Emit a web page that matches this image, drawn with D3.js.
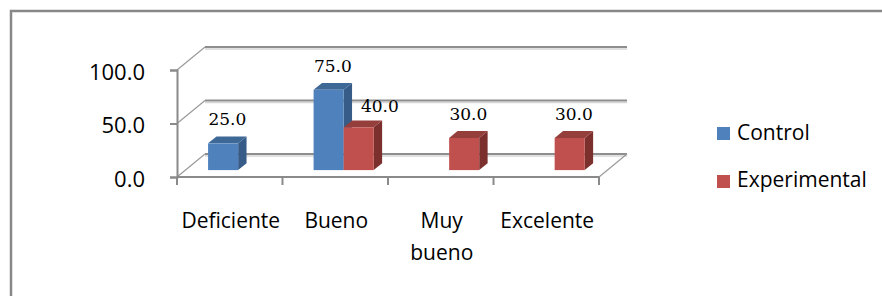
<!DOCTYPE html>
<html>
<head>
<meta charset="utf-8">
<script src="https://cdn.jsdelivr.net/npm/d3@7"></script>
<style>
  body { margin: 0; background: #fff; }
  text { font-family: "Open Sans", sans-serif; fill: #000; }
</style>
</head>
<body>
<div id="chart"></div>
<script>
var categories = ['Deficiente', 'Bueno', 'Muy bueno', 'Excelente'];
var seriesNames = ['Control', 'Experimental'];
var controlValues = [25, 75, 0, 0];
var experimentalValues = [0, 40, 30, 30];
var yTicks = [0, 50, 100];

var width = 882, height = 296;
var plot = {left: 177, right: 599, top: 70, bottom: 177};
var depth = {dx: 28, dy: -23};          // 3d wall depth
var barFront = 0.3, barBack = 0.6;      // bar position in depth

var colors = {
  Control: {front: '#4f81bd', top: '#3e6896', side: '#375c88'},
  Experimental: {front: '#c0504d', top: '#953f3c', side: '#7b302e'}
};

var svg = d3.select('#chart').append('svg')
  .attr('width', width)
  .attr('height', height);

svg.append('rect')
  .attr('x', 11).attr('y', 11)
  .attr('width', width + 20).attr('height', height + 20)
  .attr('fill', '#fff')
  .attr('stroke', '#888')
  .attr('stroke-width', 2.5);

var x = d3.scaleBand().domain(categories).range([plot.left, plot.right]);
var bw = x.bandwidth();
var xSub = d3.scaleBand().domain(seriesNames).range([bw * 0.215, bw * 0.785]);
var y = d3.scaleLinear().domain([0, 100]).range([plot.bottom, plot.top]);

// walls and gridlines
var walls = svg.append('g');
yTicks.forEach(function(v) {
  var yb = y(v) + depth.dy;
  walls.append('line')
    .attr('x1', plot.left + depth.dx).attr('x2', plot.right + depth.dx)
    .attr('y1', yb + 2).attr('y2', yb + 2)
    .attr('stroke', '#d6d6d6').attr('stroke-width', 1.5);
  walls.append('line')
    .attr('x1', plot.left + depth.dx).attr('x2', plot.right + depth.dx)
    .attr('y1', yb).attr('y2', yb)
    .attr('stroke', '#8e8e8e').attr('stroke-width', 2);
  walls.append('line')
    .attr('x1', plot.left).attr('x2', plot.left + depth.dx)
    .attr('y1', y(v)).attr('y2', yb)
    .attr('stroke', '#9a9a9a').attr('stroke-width', 1.2);
});
// floor right edge
walls.append('line')
  .attr('x1', plot.right).attr('y1', plot.bottom)
  .attr('x2', plot.right + depth.dx).attr('y2', plot.bottom + depth.dy)
  .attr('stroke', '#9a9a9a').attr('stroke-width', 1.2);

// bars
var bars = [];
categories.forEach(function(c, i) {
  bars.push({cat: c, series: 'Control', value: controlValues[i], other: experimentalValues[i]});
  bars.push({cat: c, series: 'Experimental', value: experimentalValues[i], other: controlValues[i]});
});
bars = bars.filter(function(d) { return d.value > 0; });

var barG = svg.append('g');
bars.forEach(function(d) {
  var x0 = x(d.cat) + xSub(d.series) + barFront * depth.dx;
  var x1 = x0 + xSub.bandwidth();
  var yb = y(0) + barFront * depth.dy;
  var yt = y(d.value) + barFront * depth.dy;
  var ox = (barBack - barFront) * depth.dx;
  var oy = (barBack - barFront) * depth.dy;
  var c = colors[d.series];
  barG.append('path')
    .attr('d', 'M' + x1 + ',' + yb + 'L' + x1 + ',' + yt + 'L' + (x1 + ox) + ',' + (yt + oy) +
      'L' + (x1 + ox) + ',' + (yb + oy) + 'Z')
    .attr('fill', c.side);
  barG.append('path')
    .attr('d', 'M' + x0 + ',' + yt + 'L' + x1 + ',' + yt + 'L' + (x1 + ox) + ',' + (yt + oy) +
      'L' + (x0 + ox) + ',' + (yt + oy) + 'Z')
    .attr('fill', c.top);
  barG.append('rect')
    .attr('x', x0).attr('y', yt)
    .attr('width', xSub.bandwidth()).attr('height', yb - yt)
    .attr('fill', c.front);

  // data label, pushed aside when the neighbour bar is taller
  var nudge = (d.series === 'Experimental' && d.other > d.value) ? 1 : 0;
  svg.append('text')
    .attr('x', (x0 + x1) / 2 + ox / 2 + nudge * 17)
    .attr('y', yt + oy - 11 + nudge * 3)
    .attr('text-anchor', 'middle')
    .style('font-family', '"DejaVu Serif", serif')
    .style('font-size', '17px')
    .text(d3.format('.1f')(d.value));
});

// value axis
var yAxis = svg.append('g')
  .attr('transform', 'translate(' + plot.left + ',0)')
  .call(d3.axisLeft(y).tickValues(yTicks).tickFormat(d3.format('.1f')).tickSize(7).tickPadding(25));
yAxis.select('.domain').attr('stroke', '#8a8a8a').attr('stroke-width', 2);
yAxis.selectAll('.tick line').attr('stroke', '#8a8a8a').attr('stroke-width', 2);
yAxis.selectAll('.tick text')
  .attr('dy', '0.42em')
  .style('font-family', '"Open Sans", sans-serif')
  .style('font-size', '22px')
  .attr('fill', '#000');

// category axis
var xAxis = svg.append('g');
xAxis.append('line')
  .attr('x1', plot.left).attr('x2', plot.right)
  .attr('y1', plot.bottom).attr('y2', plot.bottom)
  .attr('stroke', '#8a8a8a').attr('stroke-width', 2);
categories.concat([null]).forEach(function(c) {
  var tx = c ? x(c) : plot.right;
  xAxis.append('line')
    .attr('x1', tx).attr('x2', tx)
    .attr('y1', plot.bottom).attr('y2', plot.bottom + 8)
    .attr('stroke', '#8a8a8a').attr('stroke-width', 2);
});

categories.forEach(function(c) {
  var t = xAxis.append('text')
    .attr('x', x(c) + bw / 2 + 1)
    .attr('y', 228)
    .attr('text-anchor', 'middle')
    .style('font-size', '21px');
  t.text(c);
  if (t.node().getComputedTextLength() > 100) {
    var words = c.split(' ');
    t.text(null);
    words.forEach(function(w, k) {
      t.append('tspan')
        .attr('x', x(c) + bw / 2 + 1)
        .attr('dy', k === 0 ? 0 : 32)
        .text(w);
    });
  }
});

// legend
var legend = svg.append('g');
seriesNames.forEach(function(s, i) {
  legend.append('rect')
    .attr('x', 717).attr('y', 127 + i * 48)
    .attr('width', 13).attr('height', 13)
    .attr('fill', colors[s].front);
  legend.append('text')
    .attr('x', 737).attr('y', 140 + i * 47)
    .style('font-size', '21px')
    .text(s);
});
</script>
</body>
</html>
